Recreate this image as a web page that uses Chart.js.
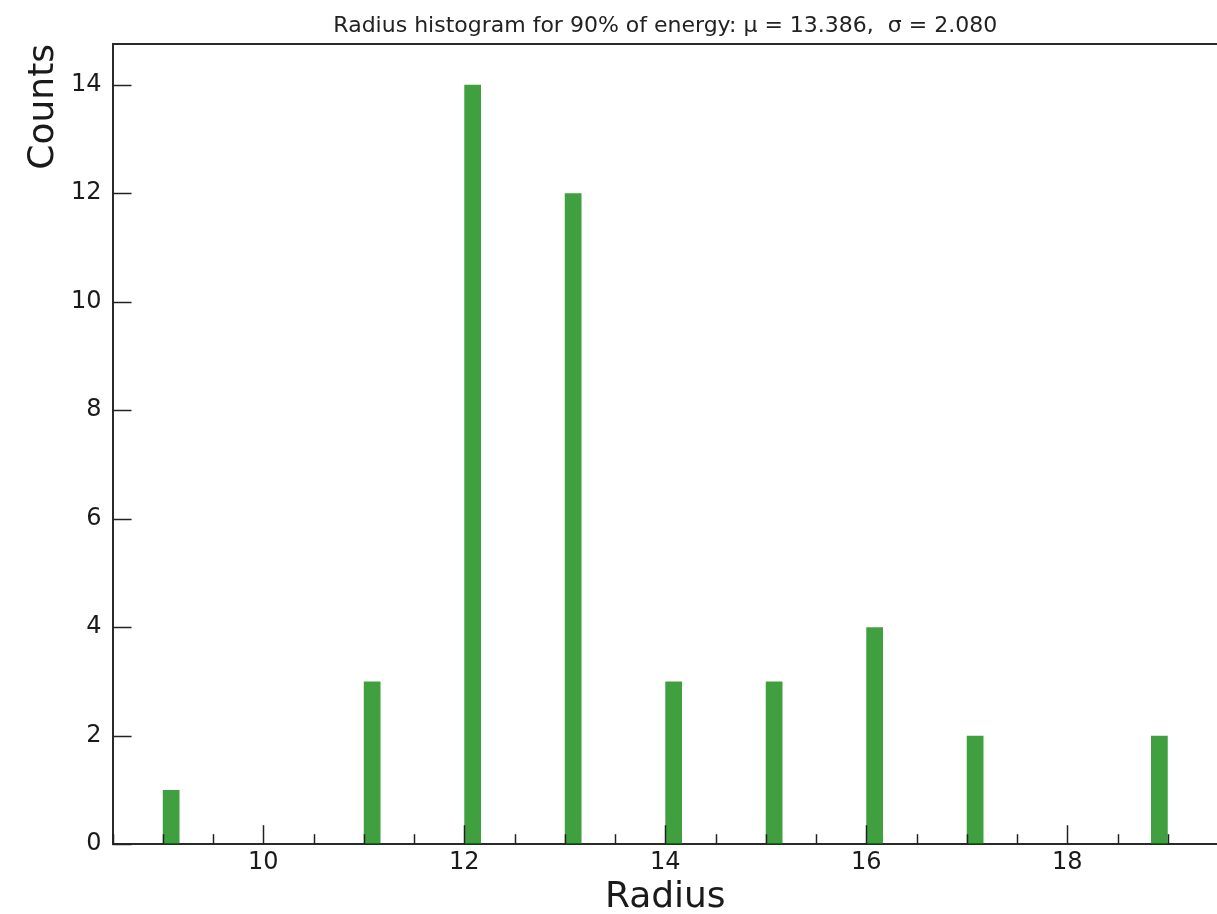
<!DOCTYPE html>
<html>
<head>
<meta charset="utf-8">
<script src="https://cdn.jsdelivr.net/npm/chart.js@4.4.1/dist/chart.umd.min.js"></script>
<style>
html, body { margin: 0; padding: 0; background: #fff; overflow: hidden; }
#wrap { width: 1222px; height: 914px; }
</style>
</head>
<body>
<div id="wrap"><canvas id="hist"></canvas></div>
<script>
// radius values and how many times each one shows up
const radii = [9, 11, 12, 13, 14, 15, 16, 17, 19]
const counts = [1, 3, 14, 12, 3, 3, 4, 2, 2]
const histRange = [9, 19]
const binCount = 60
const xTickLabels = [10, 12, 14, 16, 18]
const yTickLabels = [0, 2, 4, 6, 8, 10, 12, 14]
const titleText = 'Radius histogram for 90% of energy: μ = 13.386,  σ = 2.080'

// put every radius in its histogram bin (centre of the bin)
const binWidth = (histRange[1] - histRange[0]) / binCount
const bins = radii.map((r, i) => {
    const idx = Math.min(Math.floor((r - histRange[0]) / binWidth + 1e-9), binCount - 1)
    return { x: histRange[0] + (idx + 0.5) * binWidth, y: counts[i] }
})

const near = (list, v) => list.some(t => Math.abs(t - v) < 1e-6)

// matplotlib style ticks pointing into the plot, plus the top spine
const inwardTicks = {
    id: 'inwardTicks',
    afterDraw(chart) {
        const { ctx, chartArea, scales } = chart
        ctx.save()
        ctx.strokeStyle = '#222'
        ctx.lineWidth = 1.5
        scales.x.ticks.forEach(t => {
            const px = Math.round(scales.x.getPixelForValue(t.value)) + 0.5
            const len = near(xTickLabels, t.value) ? 19 : 10
            ctx.beginPath()
            ctx.moveTo(px, chartArea.bottom)
            ctx.lineTo(px, chartArea.bottom - len)
            ctx.stroke()
        })
        scales.y.ticks.forEach(t => {
            const py = Math.round(scales.y.getPixelForValue(t.value)) + 0.5
            ctx.beginPath()
            ctx.moveTo(chartArea.left, py)
            ctx.lineTo(chartArea.left + 19, py)
            ctx.stroke()
        })
        ctx.strokeStyle = '#2a2a2a'
        ctx.lineWidth = 2
        ctx.beginPath()
        ctx.moveTo(chartArea.left, chartArea.top)
        ctx.lineTo(chartArea.right, chartArea.top)
        ctx.stroke()
        ctx.restore()
    }
}

const histData = {
    datasets: [{
        data: bins,
        backgroundColor: 'rgba(0, 128, 0, 0.75)',
        borderWidth: 0,
        categoryPercentage: 1,
        barPercentage: 1 / 3
    }]
}

const histConfig = {
    type: 'bar',
    data: histData,
    plugins: [inwardTicks],
    options: {
        responsive: true,
        maintainAspectRatio: false,
        animation: false,
        layout: { padding: { left: 0, right: 1, top: 0, bottom: 0 } },
        plugins: {
            legend: { display: false },
            tooltip: { enabled: false },
            title: {
                display: true,
                text: titleText,
                fullSize: false,
                color: '#222',
                font: { family: 'DejaVu Sans', size: 22, weight: 'normal' },
                padding: { top: 13, bottom: 4.6 }
            }
        },
        scales: {
            x: {
                type: 'linear',
                offset: false,
                min: 8.5,
                max: 19.5,
                grid: { display: false, drawTicks: false },
                border: { display: true, color: '#2a2a2a', width: 2 },
                ticks: {
                    stepSize: 0.5,
                    autoSkip: false,
                    maxRotation: 0,
                    includeBounds: false,
                    padding: 4,
                    color: '#1a1a1a',
                    font: { family: 'DejaVu Sans', size: 24 },
                    callback: v => near(xTickLabels, v) ? String(v) : ''
                },
                title: {
                    display: true,
                    text: 'Radius',
                    color: '#1a1a1a',
                    font: { family: 'DejaVu Sans', size: 36, lineHeight: 1 },
                    padding: { top: -1, bottom: -2 }
                }
            },
            y: {
                min: 0,
                max: 14.75,
                grid: { display: false, drawTicks: false },
                border: { display: true, color: '#2a2a2a', width: 2 },
                ticks: {
                    stepSize: 2,
                    includeBounds: false,
                    padding: 11,
                    color: '#1a1a1a',
                    font: { family: 'DejaVu Sans', size: 24 },
                    callback: v => near(yTickLabels, v) ? String(v) : ''
                },
                title: {
                    display: true,
                    text: 'Counts',
                    align: 'end',
                    color: '#1a1a1a',
                    font: { family: 'DejaVu Sans', size: 36, lineHeight: 1 },
                    padding: { top: 26, bottom: -2 }
                }
            }
        }
    }
}

const histChart = new Chart(document.getElementById('hist'), histConfig)
</script>
</body>
</html>
